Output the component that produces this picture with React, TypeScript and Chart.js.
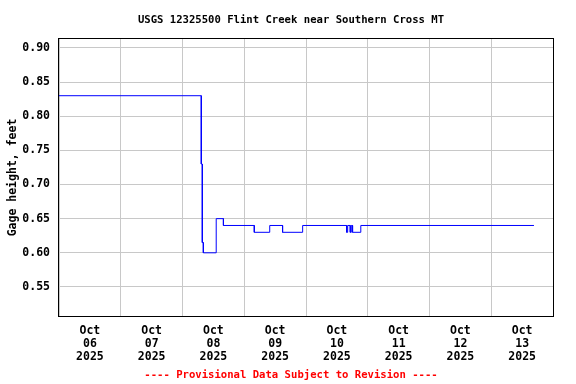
import React, { useEffect, useRef } from "react";
import { Chart, registerables } from "chart.js";

Chart.register(...registerables);

// Hours since Oct 06 2025 00:00 at which the gage height changes
const changeHours = [0, 55.3, 55.7, 56.1, 61.1, 63.9, 75.9, 81.9, 86.9, 94.7, 111.8, 112.2, 113.2, 113.6, 114.1, 117.3];
// Gage height (feet) held from each change time until the next one
const gageValues = [0.83, 0.73, 0.615, 0.6, 0.65, 0.64, 0.63, 0.64, 0.63, 0.64, 0.63, 0.64, 0.63, 0.64, 0.63, 0.64];
const lastHour = 184.6;

const dayLabels = ["06", "07", "08", "09", "10", "11", "12", "13"];
const monthLabel = "Oct";
const yearLabel = "2025";
const yTicks = [0.55, 0.6, 0.65, 0.7, 0.75, 0.8, 0.85, 0.9];
const xTicks = Array.from({ length: 17 }, (_, i) => i * 12);

const FONT = "'DejaVu Sans Mono', 'Liberation Mono', monospace";

const borderPlugin = {
  id: "plotBorder",
  afterDraw(chart: any) {
    const { ctx, chartArea } = chart;
    ctx.save();
    ctx.strokeStyle = "#000";
    ctx.lineWidth = 1;
    ctx.strokeRect(
      Math.round(chartArea.left) - 0.5,
      Math.round(chartArea.top) - 0.5,
      Math.round(chartArea.right - chartArea.left) + 1,
      Math.round(chartArea.bottom - chartArea.top) + 1
    );
    ctx.restore();
  },
};

export default function App() {
  const ref = useRef<HTMLCanvasElement>(null);
  useEffect(() => {
    document.body.style.margin = "0";
    const points: { x: number; y: number }[] = [];
    for (let i = 0; i < changeHours.length; i++) {
      const end = i + 1 < changeHours.length ? changeHours[i + 1] : lastHour;
      points.push({ x: changeHours[i], y: gageValues[i] });
      points.push({ x: end, y: gageValues[i] });
    }
    const tickFont = { family: FONT, size: 11.5, weight: "bold", lineHeight: 13 / 11.5 };
    const chart = new Chart(ref.current!, {
      type: "line",
      data: {
        datasets: [
          {
            data: points,
            borderColor: "#0000ff",
            borderWidth: 1,
            pointRadius: 0,
            fill: false,
            tension: 0,
          },
        ],
      },
      plugins: [borderPlugin],
      options: {
        responsive: false,
        animation: false,
        layout: { padding: { left: 6, right: 0, top: 0, bottom: 0 } },
        plugins: {
          legend: { display: false },
          tooltip: { enabled: false },
          title: {
            display: true,
            text: "USGS 12325500 Flint Creek near Southern Cross MT",
            color: "#000",
            font: { family: FONT, size: 10.6, weight: "bold", lineHeight: 1.2 },
            padding: { top: 13.6, bottom: 12.7 },
          },
          subtitle: {
            display: true,
            position: "bottom",
            text: "---- Provisional Data Subject to Revision ----",
            color: "#ff0000",
            font: { family: FONT, size: 10.6, weight: "bold", lineHeight: 1.2 },
            padding: { top: 0, bottom: 2.6 },
          },
        },
        scales: {
          x: {
            type: "linear",
            min: 0,
            max: 192,
            afterBuildTicks: (s: any) => {
              s.ticks = xTicks.map((v) => ({ value: v }));
            },
            afterFit: (s: any) => {
              s.height = 52.7;
            },
            grid: {
              color: (c: any) => (c.tick && c.tick.value % 24 === 0 ? "#c8c8c8" : "rgba(0,0,0,0)"),
              drawTicks: false,
            },
            border: { display: false },
            ticks: {
              autoSkip: false,
              maxRotation: 0,
              padding: 8.5,
              color: "#000",
              font: tickFont,
              callback: (v: any) => {
                const n = Number(v);
                if (n % 24 !== 12) return "";
                const idx = Math.floor(n / 24);
                return [monthLabel, dayLabels[idx], yearLabel];
              },
            },
          },
          y: {
            type: "linear",
            min: 0.5075,
            max: 0.913,
            afterBuildTicks: (s: any) => {
              s.ticks = yTicks.map((v) => ({ value: v }));
            },
            afterFit: (s: any) => {
              s.width = 53;
            },
            grid: { color: "#c8c8c8", drawTicks: false },
            border: { display: false },
            title: {
              display: true,
              text: "Gage height, feet",
              color: "#000",
              font: { family: FONT, size: 11.5, weight: "bold", lineHeight: 1.2 },
              padding: { top: 0, bottom: 4 },
            },
            ticks: {
              padding: 9,
              color: "#000",
              font: tickFont,
              callback: (v: any) => Number(v).toFixed(2),
            },
          },
          yRight: {
            type: "linear",
            position: "right",
            min: 0,
            max: 1,
            afterFit: (s: any) => {
              s.width = 23;
            },
            grid: { display: false, drawTicks: false },
            border: { display: false },
            ticks: { display: false },
          },
        },
      },
    } as any);
    return () => chart.destroy();
  }, []);
  return <canvas ref={ref} width={576} height={384} style={{ display: "block" }} />;
}
